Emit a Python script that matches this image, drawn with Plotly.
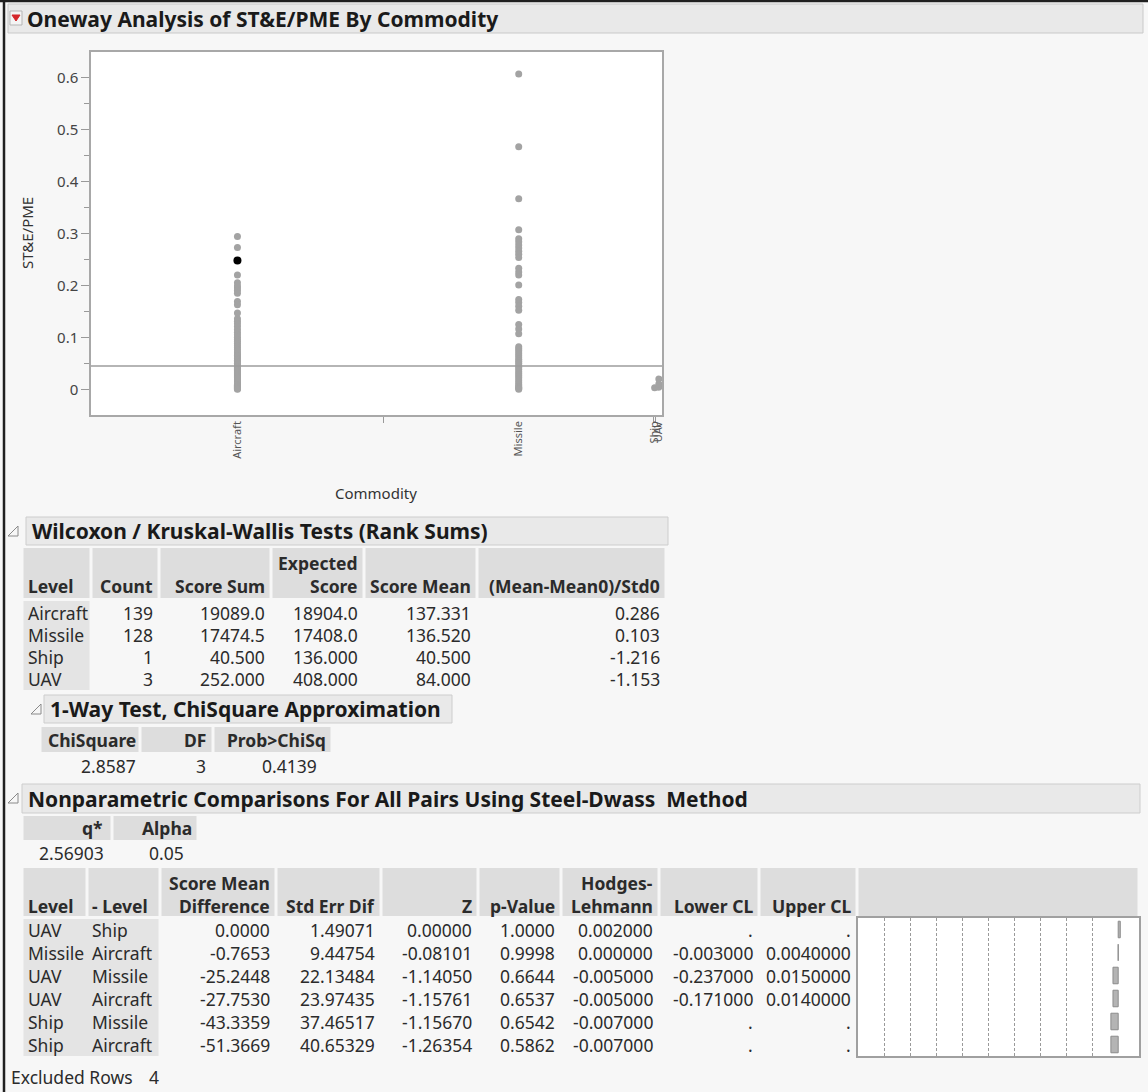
import numpy as np
import plotly.graph_objects as go

W, H = 1148, 1092
FONT = "Noto Sans"

# ---------------- data ----------------
levels = ["Aircraft", "Missile", "Ship", "UAV"]
counts = [139, 128, 1, 3]

aircraft_vals = [0.294, 0.273, 0.220, 0.205, 0.199, 0.195, 0.190, 0.185, 0.169, 0.163,
                 0.147, 0.136, 0.131, 0.126, 0.121, 0.115, 0.110, 0.105, 0.100, 0.096,
                 0.092, 0.088, 0.084, 0.080, 0.076, 0.072, 0.068, 0.065, 0.062, 0.059,
                 0.056, 0.053, 0.050, 0.047, 0.044, 0.042, 0.040, 0.038, 0.036, 0.034,
                 0.032, 0.030, 0.028, 0.026, 0.024, 0.022, 0.020, 0.018, 0.016, 0.014,
                 0.012, 0.010, 0.009, 0.008, 0.007, 0.006, 0.005, 0.004, 0.003, 0.002,
                 0.001, 0.000]
missile_vals = [0.607, 0.467, 0.367, 0.307, 0.290, 0.284, 0.278, 0.272, 0.266, 0.260,
                0.254, 0.233, 0.226, 0.220, 0.201, 0.173, 0.167, 0.160, 0.152, 0.125,
                0.116, 0.107, 0.082, 0.078, 0.074, 0.070, 0.066, 0.062, 0.058, 0.054,
                0.050, 0.046, 0.042, 0.038, 0.034, 0.030, 0.026, 0.022, 0.018, 0.014,
                0.010, 0.007, 0.004, 0.002, 0.000]
ship_vals = [0.003]
uav_vals = [0.004, 0.010, 0.020]
highlight_level = "Aircraft"
highlight_vals = [0.248]
grand_mean = 0.0449

# Wilcoxon / Kruskal-Wallis table
wil_score_sum = ["19089.0", "17474.5", "40.500", "252.000"]
wil_expected = ["18904.0", "17408.0", "136.000", "408.000"]
wil_score_mean = ["137.331", "136.520", "40.500", "84.000"]
wil_std = ["0.286", "0.103", "-1.216", "-1.153"]

# 1-way test
chi_square = ["2.8587"]
chi_df = ["3"]
chi_p = ["0.4139"]

# Steel-Dwass
q_star = ["2.56903"]
alpha = ["0.05"]
sd_level = ["UAV", "Missile", "UAV", "UAV", "Ship", "Ship"]
sd_minus = ["Ship", "Aircraft", "Missile", "Aircraft", "Missile", "Aircraft"]
sd_diff = ["0.0000", "-0.7653", "-25.2448", "-27.7530", "-43.3359", "-51.3669"]
sd_se = ["1.49071", "9.44754", "22.13484", "23.97435", "37.46517", "40.65329"]
sd_z = ["0.00000", "-0.08101", "-1.14050", "-1.15761", "-1.15670", "-1.26354"]
sd_p = ["1.0000", "0.9998", "0.6644", "0.6537", "0.6542", "0.5862"]
sd_hl = [0.002, 0.000, -0.005, -0.005, -0.007, -0.007]
sd_lower = [None, -0.003, -0.237, -0.171, None, None]
sd_upper = [None, 0.004, 0.015, 0.014, None, None]
excluded_rows = 4

# ---------------- helpers ----------------
shapes, annotations = [], []


def X(x):
    return x / W


def Y(y):
    return 1 - y / H


def rect(x0, y0, x1, y1, fill, line=None, lw=0, layer="below"):
    shapes.append(dict(type="rect", xref="paper", yref="paper",
                       x0=X(x0), x1=X(x1), y0=Y(y1), y1=Y(y0),
                       fillcolor=fill, line=dict(color=line or fill, width=lw), layer=layer))


def hline(x0, x1, y, color, w=1):
    shapes.append(dict(type="line", xref="paper", yref="paper", x0=X(x0), x1=X(x1),
                       y0=Y(y), y1=Y(y), line=dict(color=color, width=w)))


def vline(x, y0, y1, color, w=1):
    shapes.append(dict(type="line", xref="paper", yref="paper", x0=X(x), x1=X(x),
                       y0=Y(y0), y1=Y(y1), line=dict(color=color, width=w)))


def txt(x, y, s, anchor="left", size=17.5, color="#2b2b2b", bold=False, angle=0):
    if bold:
        s = "<b>" + s + "</b>"
    annotations.append(dict(x=X(x), y=Y(y), xref="paper", yref="paper", text=s,
                            showarrow=False, xanchor=anchor, yanchor="middle",
                            textangle=angle, borderpad=0,
                            font=dict(family=FONT, size=size, color=color)))


def disclosure(x, y):
    # outline right triangle (JMP open outline icon)
    p = f"M {X(x)} {Y(y + 5)} L {X(x + 10)} {Y(y + 5)} L {X(x + 10)} {Y(y - 5)} Z"
    shapes.append(dict(type="path", xref="paper", yref="paper", path=p,
                       line=dict(color="#8a8a8a", width=1), fillcolor="rgba(0,0,0,0)"))


def header_bar(x0, x1, y0, y1, title, size=21):
    rect(x0, y0, x1, y1, "#e9e9e9", "#cdcdcd", 1)
    txt(x0 + 5, (y0 + y1) / 2, title, size=size, color="#1a1a1a", bold=True)


def fmt_cl(v, nd):
    return "." if v is None else f"{v:.{nd}f}"


HDR = "#dddddd"
LVL = "#e4e4e4"
TS = 17.5   # table font size

# ---------------- page frame ----------------
vline(4, 0, H, "#202020", 2.5)
hline(0, W, 1, "#202020", 2.5)

# main title bar
rect(8, 4, 1143, 33, "#e9e9e9", "#c9c9c9", 1)
rect(10, 11, 22, 25, "#f4f4f4", "#b5b5b5", 1)
shapes.append(dict(type="path", xref="paper", yref="paper",
                   path=f"M {X(12)} {Y(15)} L {X(20)} {Y(15)} L {X(16)} {Y(21)} Z",
                   fillcolor="#d4262a", line=dict(color="#d4262a", width=1)))
txt(26, 19, "Oneway Analysis of ST&E/PME By Commodity", size=21, color="#1a1a1a", bold=True)

# ---------------- scatter (oneway) ----------------
edges = np.concatenate([[0], np.cumsum(counts)])
centers = (edges[:-1] + edges[1:]) / 2
group_vals = [aircraft_vals, missile_vals, ship_vals, uav_vals]

fig = go.Figure()
xs, ys = [], []
for c, vals in zip(centers, group_vals):
    xs += [c] * len(vals)
    ys += vals
fig.add_trace(go.Scatter(x=xs, y=ys, mode="markers", xaxis="x", yaxis="y",
                         marker=dict(size=7, color="#a3a3a3"), hoverinfo="skip"))
hx = centers[levels.index(highlight_level)]
fig.add_trace(go.Scatter(x=[hx] * len(highlight_vals), y=highlight_vals, mode="markers",
                         xaxis="x", yaxis="y", marker=dict(size=8, color="#000000"),
                         hoverinfo="skip"))
shapes.append(dict(type="line", xref="x", yref="y", x0=edges[0], x1=edges[-1],
                   y0=grand_mean, y1=grand_mean, line=dict(color="#9c9c9c", width=1.5)))

txt(27, 233, "ST&E/PME", size=15, color="#333333", angle=-90, anchor="center")
txt(376, 493, "Commodity", size=15, color="#333333", anchor="center")

# ---------------- Wilcoxon table ----------------
disclosure(8, 531)
header_bar(26, 668, 517, 545, "Wilcoxon / Kruskal-Wallis Tests (Rank Sums)")
wcols = [22, 91, 159, 271, 364, 477, 666]
for i in range(len(wcols) - 1):
    rect(wcols[i] + 1.5, 548, wcols[i + 1] - 1.5, 598, HDR)
wrows = [613, 635, 657, 679]
rect(wcols[0] + 1.5, 601, wcols[1] - 1.5, 690, LVL)
txt(wcols[3 + 1] - 5, 563, "Expected", anchor="right", size=TS, bold=True)
hdrs = ["Level", "Count", "Score Sum", "Score", "Score Mean", "(Mean-Mean0)/Std0"]
for i, h in enumerate(hdrs):
    if i == 0:
        txt(wcols[0] + 5, 586, h, size=TS, bold=True)
    else:
        txt(wcols[i + 1] - 5, 586, h, anchor="right", size=TS, bold=True)
for r, y in enumerate(wrows):
    txt(wcols[0] + 5, y, levels[r], size=TS)
    cells = [str(counts[r]), wil_score_sum[r], wil_expected[r], wil_score_mean[r], wil_std[r]]
    for j, s in enumerate(cells):
        txt(wcols[j + 2] - 5, y, s, anchor="right", size=TS)

# ---------------- 1-way test ----------------
disclosure(31, 709)
header_bar(44, 452, 695, 723, "1-Way Test, ChiSquare Approximation")
ccols = [40, 140, 213, 332]
for i in range(3):
    rect(ccols[i] + 1.5, 727, ccols[i + 1] - 1.5, 752, HDR)
txt(137, 740, "ChiSquare", anchor="right", size=TS, bold=True)
txt(207, 740, "DF", anchor="right", size=TS, bold=True)
txt(327, 740, "Prob>ChiSq", anchor="right", size=TS, bold=True)
txt(137, 766, chi_square[0], anchor="right", size=TS)
txt(207, 766, chi_df[0], anchor="right", size=TS)
txt(318, 766, chi_p[0], anchor="right", size=TS)

# ---------------- Steel-Dwass ----------------
disclosure(8, 798)
header_bar(22, 1140, 784, 813, "Nonparametric Comparisons For All Pairs Using Steel-Dwass  Method")
qcols = [22, 112, 198]
for i in range(2):
    rect(qcols[i] + 1.5, 816, qcols[i + 1] - 1.5, 840, HDR)
txt(104, 828, "q*", anchor="right", size=TS, bold=True)
txt(193, 828, "Alpha", anchor="right", size=TS, bold=True)
txt(105, 853, q_star[0], anchor="right", size=TS)
txt(185, 853, alpha[0], anchor="right", size=TS)

mcols = [22, 87, 160, 276, 381, 478, 561, 659, 759, 857, 1139]
for i in range(len(mcols) - 1):
    rect(mcols[i] + 1.5, 868, mcols[i + 1] - 1.5, 916, HDR)
rect(mcols[0] + 1.5, 919, mcols[2] - 1.5, 1056, LVL)
txt(mcols[3] - 5, 883, "Score Mean", anchor="right", size=TS, bold=True)
txt(mcols[7] - 5, 883, "Hodges-", anchor="right", size=TS, bold=True)
txt(mcols[0] + 5, 906, "Level", size=TS, bold=True)
txt(mcols[1] + 4, 906, "- Level", size=TS, bold=True)
mh = ["Difference", "Std Err Dif", "Z", "p-Value", "Lehmann", "Lower CL", "Upper CL"]
for j, h in enumerate(mh):
    txt(mcols[j + 3] - 5, 906, h, anchor="right", size=TS, bold=True)
mrows = [929.5 + 23 * k for k in range(6)]
for r, y in enumerate(mrows):
    txt(mcols[0] + 5, y, sd_level[r], size=TS)
    txt(mcols[1] + 4, y, sd_minus[r], size=TS)
    cells = [sd_diff[r], sd_se[r], sd_z[r], sd_p[r], f"{sd_hl[r]:.6f}",
             fmt_cl(sd_lower[r], 6), fmt_cl(sd_upper[r], 7)]
    for j, s in enumerate(cells):
        txt(mcols[j + 3] - 5, y, s, anchor="right", size=TS)

txt(10, 1077, "Excluded Rows", size=TS)
txt(160, 1077, str(excluded_rows), anchor="right", size=TS)

# bar chart of Hodges-Lehmann estimates
fig.add_trace(go.Bar(x=sd_hl, y=list(range(len(sd_hl))), orientation="h",
                     xaxis="x2", yaxis="y2", width=0.72,
                     marker=dict(color="#b4b4b4", line=dict(color="#8c8c8c", width=1)),
                     hoverinfo="skip"))

fig.update_layout(
    width=W, height=H, margin=dict(l=0, r=0, t=0, b=0),
    paper_bgcolor="#f7f7f7", plot_bgcolor="#ffffff", showlegend=False,
    font=dict(family=FONT, color="#333333"),
    xaxis=dict(domain=[X(91), X(662)], range=[edges[0], edges[-1]], anchor="y",
               tickmode="array", tickvals=list(centers), ticktext=levels,
               tickangle=-90, ticks="", tickfont=dict(size=11, color="#555555"),
               showgrid=False, zeroline=False, showline=True, mirror=True,
               linecolor="#a8a8a8", linewidth=1.5, automargin=False, fixedrange=True,
               minor=dict(tickmode="array", tickvals=[float(e) for e in edges[1:-1]],
                          ticks="outside", ticklen=6, tickcolor="#999999", showgrid=False)),
    yaxis=dict(domain=[Y(415), Y(52)], range=[-0.0495, 0.6495], anchor="x",
               tick0=0, dtick=0.1, ticks="outside", ticklen=8, tickcolor="#999999",
               tickfont=dict(size=15, color="#444444"),
               showgrid=False, zeroline=False, showline=True, mirror=True,
               linecolor="#a8a8a8", linewidth=1.5, automargin=False,
               minor=dict(dtick=0.05, ticks="outside", ticklen=5, tickcolor="#999999",
                          showgrid=False)),
    xaxis2=dict(domain=[X(858), X(1139)], range=[-0.25, 0.02], anchor="y2",
                tickmode="array", tickvals=[-0.225, -0.2, -0.175, -0.15, -0.125, -0.1,
                                            -0.075, -0.05, -0.025],
                showticklabels=False, ticks="", showgrid=True, gridcolor="#9a9a9a",
                griddash="3px,2px", gridwidth=1, zeroline=False, showline=True, mirror=True,
                linecolor="#a0a0a0", linewidth=1.5, automargin=False),
    yaxis2=dict(domain=[Y(1056), Y(918)], range=[5.5, -0.5], anchor="x2",
                showticklabels=False, ticks="", showgrid=False, zeroline=False,
                showline=True, mirror=True, linecolor="#a0a0a0", linewidth=1.5,
                automargin=False),
    shapes=shapes, annotations=annotations,
)

fig.write_html("out.html", config={"displayModeBar": False},
               post_script="document.body.style.margin='0px';"
                           "document.body.style.overflow='hidden';")
